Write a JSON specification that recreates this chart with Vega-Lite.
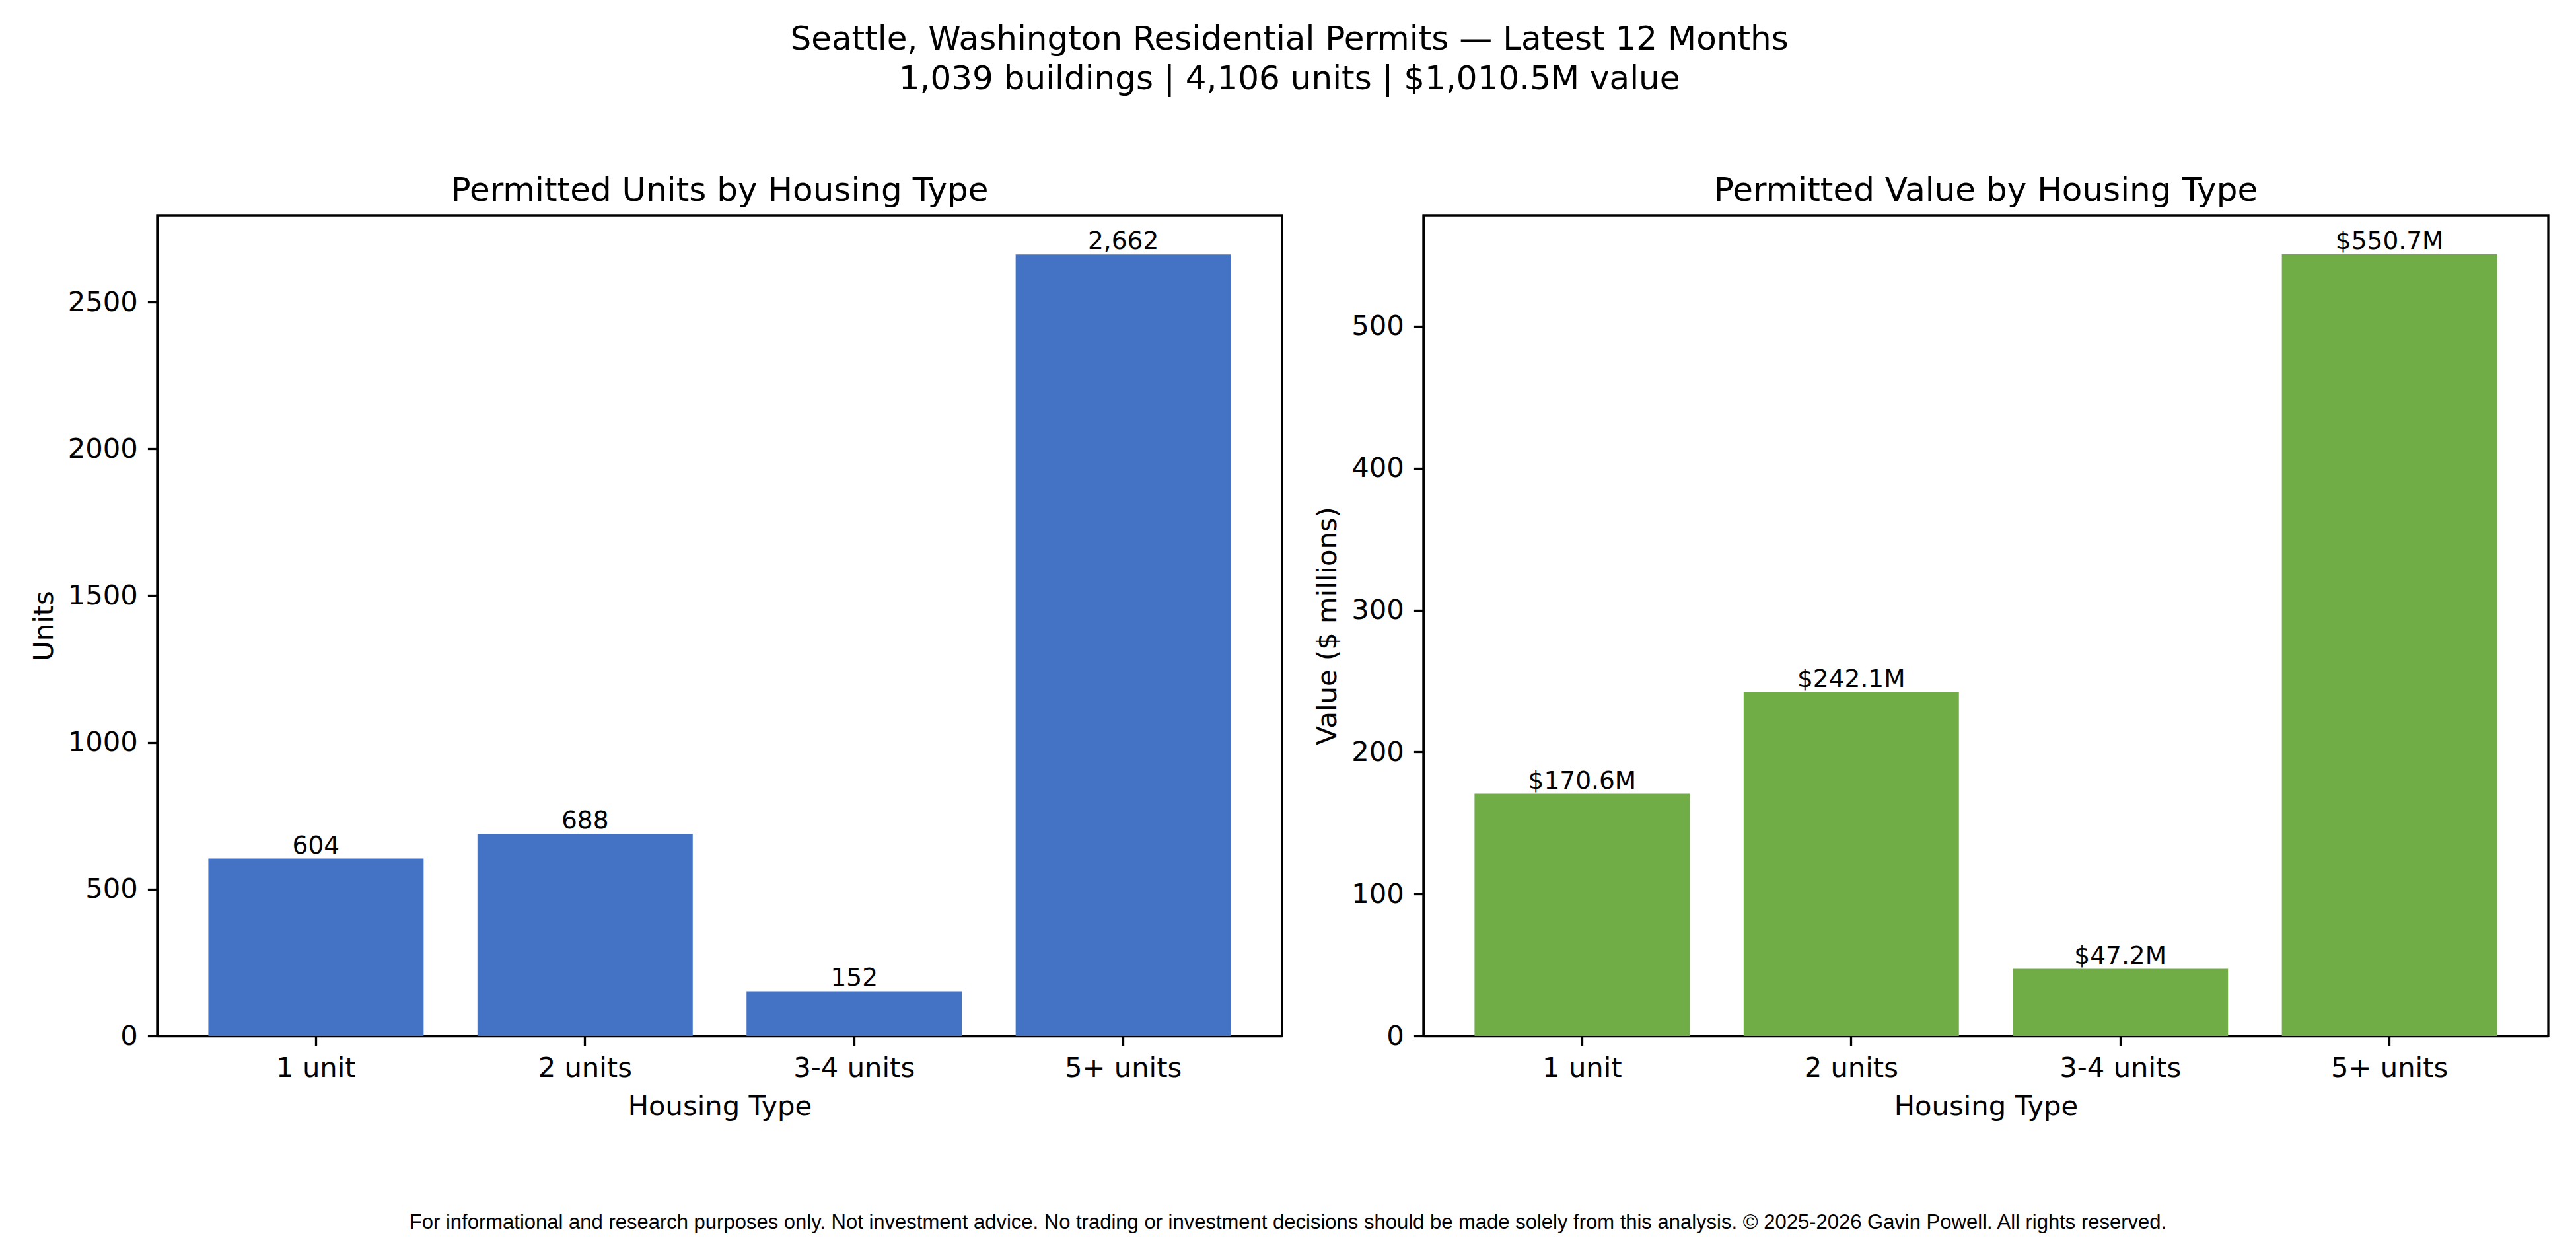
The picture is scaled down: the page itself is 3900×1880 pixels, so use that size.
{
  "$schema": "https://vega.github.io/schema/vega-lite/v6.json",
  "background": "white",
  "padding": {"left": 44, "top": 35, "right": 0, "bottom": 10},
  "datasets": {
    "permits": [
      {"housing_type": "1 unit", "units": 604, "value_m": 170.6, "value_label": "$170.6M"},
      {"housing_type": "2 units", "units": 688, "value_m": 242.1, "value_label": "$242.1M"},
      {"housing_type": "3-4 units", "units": 152, "value_m": 47.2, "value_label": "$47.2M"},
      {"housing_type": "5+ units", "units": 2662, "value_m": 550.7, "value_label": "$550.7M"}
    ],
    "footnote": [
      {"note": "For informational and research purposes only. Not investment advice. No trading or investment decisions should be made solely from this analysis. © 2025-2026 Gavin Powell. All rights reserved."}
    ]
  },
  "title": {
    "text": ["Seattle, Washington Residential Permits — Latest 12 Months", "1,039 buildings | 4,106 units | $1,010.5M value"],
    "anchor": "middle",
    "fontSize": 50,
    "lineHeight": 60,
    "offset": 117
  },
  "vconcat": [
    {
      "hconcat": [
        {
          "title": {"text": "Permitted Units by Housing Type", "offset": 12},
          "width": 1703,
          "height": 1242,
          "data": {"name": "permits"},
          "encoding": {
            "x": {
              "field": "housing_type",
              "type": "nominal",
              "sort": null,
              "title": "Housing Type",
              "scale": {"paddingInner": 0.2, "paddingOuter": 0.19}
            },
            "y": {
              "field": "units",
              "type": "quantitative",
              "title": "Units",
              "scale": {"domain": [0, 2795.1], "nice": false},
              "axis": {"values": [0, 500, 1000, 1500, 2000, 2500], "format": "d"}
            }
          },
          "layer": [
            {"mark": {"type": "bar", "color": "#4472C4"}},
            {
              "mark": {"type": "text", "baseline": "alphabetic", "dy": -8, "fontSize": 37.5, "font": "DejaVu Sans", "color": "black"},
              "encoding": {"text": {"field": "units", "type": "quantitative", "format": ","}}
            }
          ]
        },
        {
          "title": {"text": "Permitted Value by Housing Type", "offset": 12},
          "width": 1703,
          "height": 1242,
          "data": {"name": "permits"},
          "encoding": {
            "x": {
              "field": "housing_type",
              "type": "nominal",
              "sort": null,
              "title": "Housing Type",
              "scale": {"paddingInner": 0.2, "paddingOuter": 0.19}
            },
            "y": {
              "field": "value_m",
              "type": "quantitative",
              "title": "Value ($ millions)",
              "scale": {"domain": [0, 578.2], "nice": false},
              "axis": {"values": [0, 100, 200, 300, 400, 500], "format": "d"}
            }
          },
          "layer": [
            {"mark": {"type": "bar", "color": "#70AD47"}},
            {
              "mark": {"type": "text", "baseline": "alphabetic", "dy": -8, "fontSize": 37.5, "font": "DejaVu Sans", "color": "black"},
              "encoding": {"text": {"field": "value_label", "type": "nominal"}}
            }
          ]
        }
      ],
      "spacing": 45
    },
    {
      "width": 3424,
      "height": 20,
      "view": {"stroke": null},
      "data": {"name": "footnote"},
      "mark": {"type": "text", "font": "Liberation Sans", "fontSize": 31, "color": "black", "baseline": "alphabetic"},
      "encoding": {"text": {"field": "note", "type": "nominal"}}
    }
  ],
  "spacing": 137,
  "config": {
    "font": "DejaVu Sans",
    "view": {"stroke": "black", "strokeWidth": 3.3},
    "title": {"font": "DejaVu Sans", "fontSize": 50, "fontWeight": "normal", "color": "black"},
    "axis": {
      "zindex": 1,
      "grid": false,
      "domain": true,
      "domainColor": "black",
      "domainWidth": 3.3,
      "tickColor": "black",
      "tickWidth": 3.3,
      "tickSize": 14.6,
      "labelFont": "DejaVu Sans",
      "labelFontSize": 41.7,
      "labelColor": "black",
      "labelPadding": 14,
      "labelLimit": 0,
      "titleFont": "DejaVu Sans",
      "titleFontSize": 41.7,
      "titleFontWeight": "normal",
      "titleColor": "black",
      "titlePadding": 16
    },
    "axisX": {"labelAngle": 0},
    "axisY": {"labelPadding": 15, "titlePadding": 14}
  }
}
